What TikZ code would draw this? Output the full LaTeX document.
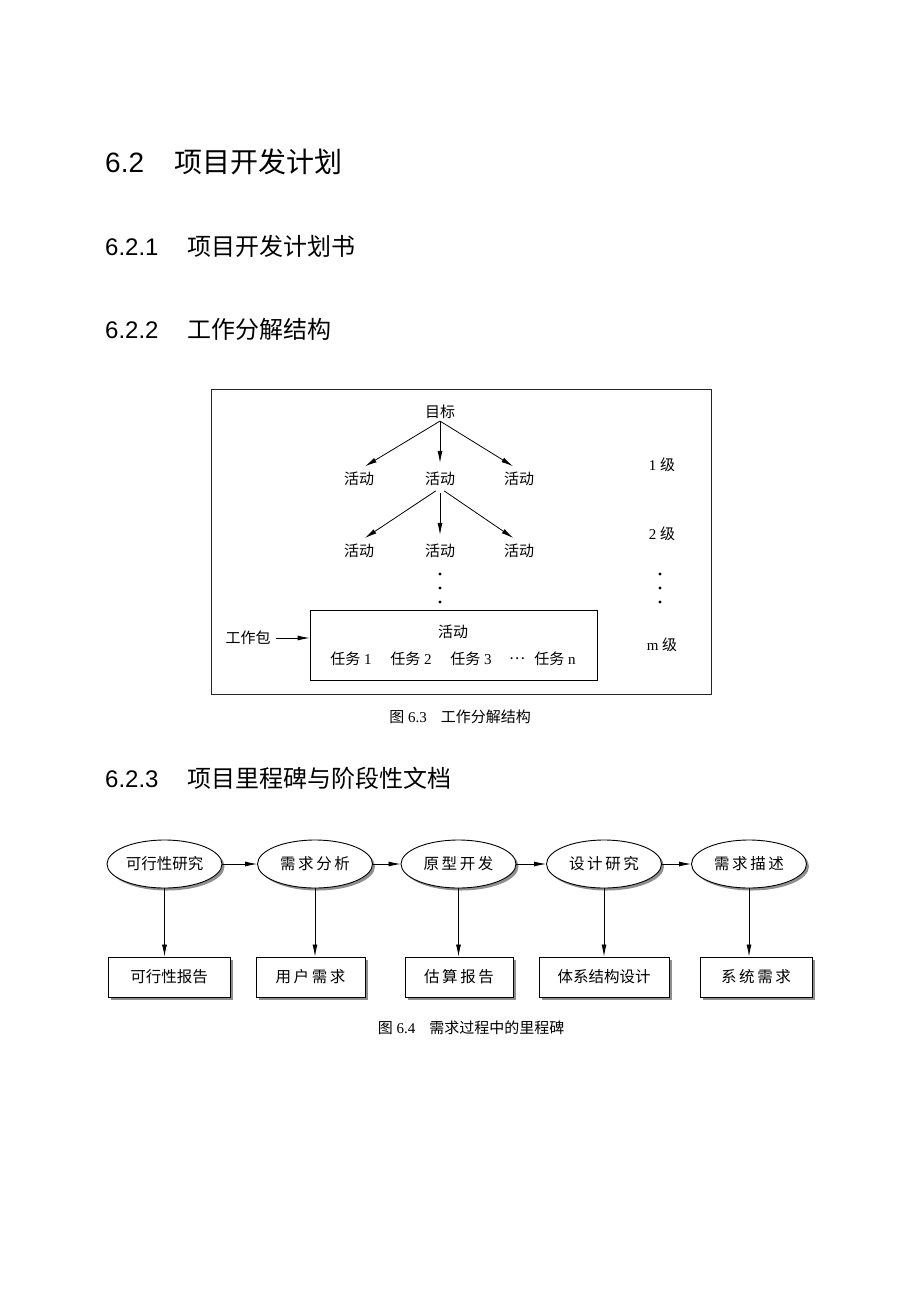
\documentclass[tikz,border=0pt]{standalone}
\usepackage{fontspec}
\setmainfont{Liberation Serif}
\setsansfont{Liberation Sans}
\newfontfamily\cjk{Noto Sans CJK SC}
\usetikzlibrary{arrows.meta}
\usetikzlibrary{shapes.geometric}
\usetikzlibrary{shadows}

\newcommand{\zh}[1]{{\cjk #1}}
\newcommand{\fsz}[1]{\fontsize{#1}{#1}\selectfont}

\tikzset{
  heading/.style={anchor=base west,inner sep=0pt},
  lbl/.style={inner sep=2pt,font=\fsz{15pt}},
  figcap/.style={inner sep=0pt,font=\fsz{15pt}},
  arr/.style={-{Latex[length=12pt,width=5pt]},line width=0.8pt},
  shade/.style={drop shadow={shadow xshift=2.5pt,shadow yshift=-2.5pt,fill=black!55,opacity=0.8}},
  milestone/.style={ellipse,draw,line width=0.9pt,fill=white,inner sep=0pt,minimum width=115pt,minimum height=48pt,font=\fsz{15.5pt},shade},
  doc/.style={draw,line width=0.9pt,fill=white,minimum height=40pt,font=\fsz{15.5pt},shade}
}

\begin{document}
\begin{tikzpicture}[x=1pt,y=-1pt]
  \useasboundingbox (0,0) rectangle (920,1300);
  \fill[white] (0,0) rectangle (920,1300);

  %headings
  \node[heading,font=\fsz{28pt}] (h1) at (105,173) {\sffamily 6.2\hspace{30pt}\zh{项目开发计划}};
  \node[heading,font=\fsz{24pt}] (h2) at (105,255) {\sffamily 6.2.1\hspace{29pt}\zh{项目开发计划书}};
  \node[heading,font=\fsz{24pt}] (h3) at (105,338) {\sffamily 6.2.2\hspace{29pt}\zh{工作分解结构}};
  \node[heading,font=\fsz{24pt}] (h4) at (105,787) {\sffamily 6.2.3\hspace{29pt}\zh{项目里程碑与阶段性文档}};

  %figure 6.3
  \node[draw,black!85,line width=0.8pt,minimum width=500pt,minimum height=305pt] (frame) at (461,541.5) {};
  \node[lbl] (goal) at (440,412) {\zh{目标}};
  %level 1
  \node[lbl] (a11) at (359,479) {\zh{活动}};
  \node[lbl] (a12) at (440,479) {\zh{活动}};
  \node[lbl] (a13) at (519,479) {\zh{活动}};
  \foreach \n in {a11,a12,a13}
    \draw[arr,shorten >=7pt] (goal.south) -- (\n.north);
  %level 2
  \node[lbl] (a21) at (359,551) {\zh{活动}};
  \node[lbl] (a22) at (440,551) {\zh{活动}};
  \node[lbl] (a23) at (519,551) {\zh{活动}};
  \foreach \n in {a21,a22,a23}
    \draw[arr,shorten <=5pt,shorten >=7pt] (a12.south) -- (\n.north);
  \foreach \y in {574,588,602} {
    \fill (440,\y) circle (1.7pt);
    \fill (660,\y) circle (1.7pt);
  }
  %work package
  \node[draw,line width=0.8pt,minimum width=287pt,minimum height=70pt] (wp) at (453.5,645) {};
  \node[lbl] (wpact) at (453,632) {\zh{活动}};
  \node[lbl] (t1) at (351,659) {\zh{任务} 1};
  \node[lbl] (t2) at (411,659) {\zh{任务} 2};
  \node[lbl] (t3) at (471,659) {\zh{任务} 3};
  \node[lbl] (tdots) at (517,659) {\zh{⋯}};
  \node[lbl] (tn) at (555,659) {\zh{任务} n};
  \node[lbl] (pkg) at (248,638) {\zh{工作包}};
  \draw[arr,shorten <=3pt] (pkg) -- (pkg -| wp.west);
  %levels
  \node[lbl] (lv1) at (662,465) {1 \zh{级}};
  \node[lbl] (lv2) at (662,534) {2 \zh{级}};
  \node[lbl] (lvm) at (662,645) {m \zh{级}};
  \node[figcap] (cap3) at (460,717) {\zh{图} 6.3\hspace{14pt}\zh{工作分解结构}};

  %figure 6.4
  %top
  \node[milestone] (m1) at (164.5,864) {\zh{可行性研究}};
  \node[milestone] (m2) at (315,864) {\zh{需\,求\,分\,析}};
  \node[milestone] (m3) at (458.5,864) {\zh{原\,型\,开\,发}};
  \node[milestone] (m4) at (604,864) {\zh{设\,计\,研\,究}};
  \node[milestone] (m5) at (749,864) {\zh{需\,求\,描\,述}};
  %bottom
  \node[doc,minimum width=122pt] (d1) at (169,977) {\zh{可行性报告}};
  \node[doc,minimum width=109pt] (d2) at (310.5,977) {\zh{用\,户\,需\,求}};
  \node[doc,minimum width=108pt] (d3) at (459,977) {\zh{估\,算\,报\,告}};
  \node[doc,minimum width=130pt] (d4) at (604,977) {\zh{体系结构设计}};
  \node[doc,minimum width=112pt] (d5) at (756,977) {\zh{系\,统\,需\,求}};
  \foreach \a/\b in {m1/m2,m2/m3,m3/m4,m4/m5}
    \draw[arr] (\a) -- (\b);
  \foreach \i in {1,...,5}
    \draw[arr] (m\i) -- (m\i |- d\i.north);
  \node[figcap] (cap4) at (471,1028) {\zh{图} 6.4\hspace{14pt}\zh{需求过程中的里程碑}};
\end{tikzpicture}
\end{document}
